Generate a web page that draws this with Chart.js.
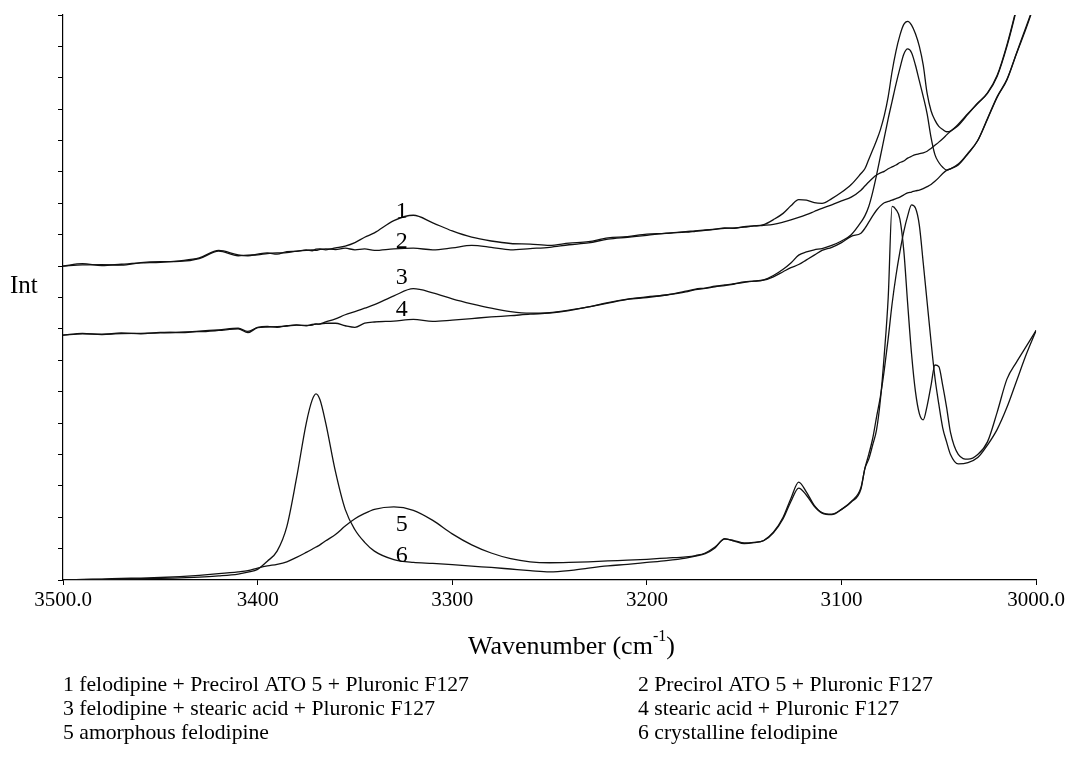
<!DOCTYPE html>
<html>
<head>
<meta charset="utf-8">
<script src="https://cdn.jsdelivr.net/npm/chart.js@4.4.0/dist/chart.umd.min.js"></script>
<style>
  html, body { margin: 0; padding: 0; background: #fff; }
  canvas { display: block; }
</style>
</head>
<body>
<canvas id="chart" width="1068" height="765"></canvas>
<script>
// Raman spectra, 3500-3000 cm-1 (arbitrary intensity units)
const wavenumbers = [
  3500,3490,3480,3470,3460,3450,3440,3430,3420,3410,
  3405,3400,3395,3390,3385,3380,3375,3372,3370,3368,3365,3360,3355,3350,3345,3340,
  3330,3320,3310,3300,3290,3280,3270,3260,3250,3240,3230,3220,3210,3200,3190,3180,
  3175,3170,3165,3160,3155,3150,3145,3140,3135,3130,3126,3122,3118,3114,3110,3105,3100,3095,3090,
  3088,3086,3084,3082,3080,3078,3076,3074,3072,3070,3068,3066,3064,3062,3060,3058,3056,3054,3052,3050,3048,3046,3044,
  3040,3035,3030,3025,3020,3015,3010,3005,3000
];

// 1 felodipine + Precirol ATO 5 + Pluronic F127
const int_1 = [
  10.00,10.08,10.02,10.06,10.10,10.12,10.17,10.26,10.50,10.36,
  10.33,10.38,10.42,10.38,10.46,10.47,10.52,10.49,10.54,10.55,10.52,10.58,10.64,10.75,10.92,11.06,
  11.45,11.62,11.38,11.12,10.92,10.80,10.72,10.70,10.66,10.73,10.78,10.90,10.94,11.02,11.04,11.10,
  11.12,11.15,11.17,11.22,11.20,11.26,11.28,11.32,11.48,11.68,11.92,12.12,12.10,12.02,12.00,12.15,12.35,12.60,12.95,
  13.10,13.40,13.70,14.00,14.35,14.80,15.40,16.20,16.85,17.35,17.70,17.80,17.68,17.40,17.00,16.40,15.50,14.95,14.65,14.45,14.35,14.28,14.30,
  14.52,14.86,15.18,15.52,16.08,17.05,18.25,19.60,21.00
];
// 2 Precirol ATO 5 + Pluronic F127
const int_2 = [
  10.00,10.04,10.05,10.03,10.11,10.14,10.15,10.24,10.48,10.33,
  10.35,10.36,10.40,10.42,10.43,10.48,10.50,10.52,10.50,10.53,10.55,10.53,10.57,10.52,10.55,10.50,
  10.55,10.57,10.52,10.58,10.66,10.60,10.52,10.56,10.60,10.68,10.74,10.86,10.92,10.98,11.05,11.08,
  11.11,11.14,11.18,11.20,11.22,11.24,11.28,11.30,11.33,11.40,11.47,11.55,11.64,11.74,11.84,11.95,12.08,12.20,12.42,
  12.55,12.68,12.80,12.90,12.97,13.02,13.10,13.16,13.22,13.30,13.35,13.44,13.50,13.55,13.58,13.61,13.66,13.75,13.85,13.95,14.06,14.18,14.30,
  14.48,14.84,15.20,15.50,16.05,17.00,18.20,19.55,21.00
];
// 3 felodipine + stearic acid + Pluronic F127
const int_3 = [
  7.80,7.86,7.82,7.87,7.84,7.89,7.88,7.93,7.97,8.02,
  7.92,8.05,8.08,8.05,8.10,8.13,8.10,8.14,8.15,8.16,8.22,8.32,8.45,8.55,8.66,8.77,
  9.05,9.28,9.15,8.96,8.80,8.66,8.55,8.50,8.52,8.60,8.70,8.84,8.95,9.02,9.08,9.20,
  9.27,9.30,9.36,9.40,9.44,9.50,9.52,9.56,9.70,9.90,10.10,10.35,10.45,10.52,10.56,10.66,10.80,11.00,11.40,
  11.60,11.90,12.35,12.90,13.50,14.10,14.70,15.25,15.80,16.30,16.75,16.92,16.80,16.40,15.90,15.40,14.85,14.10,13.55,13.30,13.15,13.06,13.10,
  13.25,13.60,14.00,14.70,15.40,15.95,16.80,17.65,18.50
];
// 4 stearic acid + Pluronic F127
const int_4 = [
  7.80,7.84,7.83,7.85,7.86,7.87,7.90,7.91,7.95,8.00,
  7.88,8.04,8.06,8.07,8.09,8.12,8.11,8.12,8.16,8.15,8.18,8.18,8.10,8.05,8.18,8.22,
  8.25,8.30,8.24,8.28,8.33,8.38,8.42,8.47,8.50,8.58,8.70,8.82,8.94,9.00,9.08,9.18,
  9.25,9.29,9.34,9.38,9.43,9.48,9.52,9.55,9.66,9.82,9.95,10.05,10.20,10.35,10.50,10.60,10.75,10.95,11.05,
  11.20,11.40,11.60,11.78,11.92,12.02,12.06,12.10,12.15,12.20,12.27,12.33,12.36,12.40,12.42,12.47,12.53,12.60,12.70,12.82,12.95,13.05,13.10,
  13.22,13.58,14.00,14.68,15.38,15.93,16.78,17.60,18.50
];
// 5 amorphous felodipine
const int_5 = [
  0.00,0.02,0.03,0.05,0.06,0.08,0.11,0.15,0.20,0.26,
  0.30,0.38,0.45,0.50,0.58,0.72,0.88,0.98,1.05,1.12,1.25,1.45,1.72,1.95,2.12,2.25,
  2.33,2.22,1.90,1.47,1.12,0.86,0.68,0.58,0.55,0.56,0.58,0.61,0.63,0.66,0.70,0.74,
  0.78,0.86,1.05,1.30,1.25,1.18,1.20,1.25,1.50,1.95,2.50,2.93,2.70,2.35,2.13,2.08,2.25,2.50,2.95,
  3.55,4.00,4.50,5.19,5.85,6.70,7.70,8.80,9.70,10.45,11.10,11.60,11.95,11.85,11.30,10.10,8.85,7.60,6.45,5.60,4.85,4.40,4.00,
  3.70,3.74,3.90,4.30,4.80,5.50,6.35,7.20,7.95
];
// 6 crystalline felodipine
const int_6 = [
  0.00,0.01,0.02,0.03,0.04,0.05,0.07,0.09,0.13,0.19,
  0.25,0.34,0.60,0.92,1.70,3.25,5.00,5.73,5.93,5.75,5.00,3.45,2.25,1.60,1.20,0.92,
  0.65,0.56,0.53,0.49,0.44,0.40,0.35,0.30,0.26,0.30,0.38,0.45,0.50,0.56,0.62,0.70,
  0.76,0.84,1.02,1.32,1.24,1.16,1.19,1.26,1.52,2.00,2.60,3.12,2.80,2.38,2.15,2.10,2.25,2.48,2.90,
  3.55,3.85,4.30,4.78,5.75,7.20,9.00,11.90,11.80,11.50,10.50,8.80,7.20,6.00,5.30,5.10,5.55,6.20,6.85,6.80,6.20,5.50,4.70,
  4.00,3.85,4.00,4.40,5.35,6.40,6.95,7.45,7.95
];

const series_names = [
  "1 felodipine + Precirol ATO 5 + Pluronic F127",
  "2 Precirol ATO 5 + Pluronic F127",
  "3 felodipine + stearic acid + Pluronic F127",
  "4 stearic acid + Pluronic F127",
  "5 amorphous felodipine",
  "6 crystalline felodipine"
];
const x_ticks = [3500, 3400, 3300, 3200, 3100, 3000];

const SERIF = '"Liberation Serif", "Times New Roman", serif';
const all_series = [int_1, int_2, int_3, int_4, int_5, int_6];

const datasets = all_series.map((vals, k) => ({
  label: series_names[k],
  data: wavenumbers.map((w, i) => ({ x: w, y: vals[i] })),
  borderColor: "#111",
  borderWidth: 1.3,
  pointRadius: 0,
  fill: false,
  cubicInterpolationMode: "monotone"
}));

// texts that chart.js cannot place itself: curve numbers, axis titles, legend block
const textPlugin = {
  id: "spectraText",
  afterDraw(chart, args, opts) {
    const { ctx } = chart;
    const xs = chart.scales.x, ys = chart.scales.y;
    ctx.save();
    ctx.fillStyle = "#000";

    // curve numbers next to the 3326 cm-1 bands
    ctx.font = "24px " + SERIF;
    ctx.textAlign = "center";
    ctx.textBaseline = "middle";
    opts.tags.forEach((t, i) => {
      ctx.fillText(String(i + 1), xs.getPixelForValue(opts.tagX), ys.getPixelForValue(t));
    });

    // y title
    ctx.textAlign = "left";
    ctx.textBaseline = "alphabetic";
    ctx.font = "25px " + SERIF;
    ctx.fillText("Int", 10, 293);

    // x title with superscript
    let tx = 468;
    const base = 654;
    ctx.font = "26px " + SERIF;
    ctx.fillText("Wavenumber (cm", tx, base);
    tx += ctx.measureText("Wavenumber (cm").width;
    ctx.font = "16px " + SERIF;
    ctx.fillText("-1", tx, base - 13);
    tx += ctx.measureText("-1").width;
    ctx.font = "26px " + SERIF;
    ctx.fillText(")", tx, base);

    // legend block
    ctx.font = "21.7px " + SERIF;
    series_names.forEach((name, i) => {
      const col = i % 2, row = Math.floor(i / 2);
      ctx.fillText(name, col ? 638 : 63, 691 + row * 24);
    });
    ctx.restore();
  }
};

new Chart(document.getElementById("chart"), {
  type: "line",
  data: { datasets },
  plugins: [textPlugin],
  options: {
    responsive: false,
    animation: false,
    events: [],
    layout: { padding: { top: 15, right: 31, left: 0, bottom: 0 } },
    plugins: {
      legend: { display: false },
      tooltip: { enabled: false },
      spectraText: { tagX: 3326, tags: [11.72, 10.77, 9.62, 8.6, 1.75, 0.76] }
    },
    scales: {
      x: {
        type: "linear",
        reverse: true,
        min: 3000,
        max: 3500,
        afterFit: s => { s.height = 185; },
        afterBuildTicks: s => { s.ticks = x_ticks.map(v => ({ value: v })); },
        ticks: {
          color: "#000",
          font: { family: SERIF, size: 21 },
          padding: 3,
          maxRotation: 0,
          autoSkip: false,
          callback: v => (v === 3500 || v === 3000) ? v.toFixed(1) : String(v)
        },
        grid: { drawOnChartArea: false, drawTicks: true, tickLength: 5, color: "#000" },
        border: { display: true, color: "#000", width: 1.2 }
      },
      y: {
        type: "linear",
        min: 0,
        max: 18,
        afterFit: s => { s.width = 63; },
        ticks: { display: false, stepSize: 1 },
        grid: { drawOnChartArea: false, drawTicks: true, tickLength: 5, color: "#000" },
        border: { display: true, color: "#000", width: 1.2 }
      }
    }
  }
});
</script>
</body>
</html>
